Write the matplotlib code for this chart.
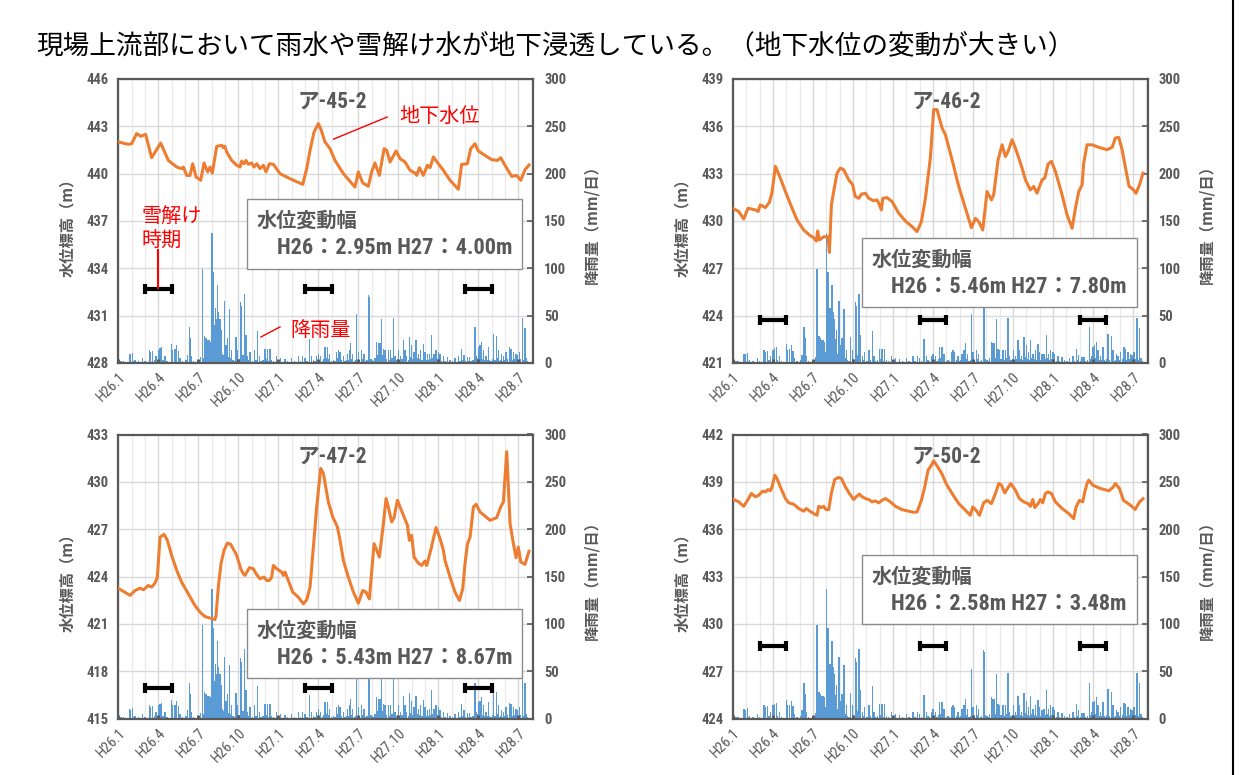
import matplotlib
matplotlib.use("Agg")
import matplotlib.pyplot as plt
from matplotlib import font_manager
from matplotlib.patches import Rectangle
from matplotlib.lines import Line2D

# =========================
# フォント
# =========================

installed = {f.name for f in font_manager.fontManager.ttflist}
NARROW = "Liberation Sans"
for cand in ["Liberation Sans Narrow", "Roboto Condensed", "Open Sans Condensed"]:
    if cand in installed:
        NARROW = cand
        break
CONDENSED = NARROW != "Liberation Sans"
JP = "Noto Sans CJK JP"

GRAY = "#595959"
ORANGE = "#ED7D31"
BLUE = "#5B9BD5"
RED = "#FF0000"

# =========================
# データ（x は H26.1 からの月数）
# =========================

month_ticks = [0, 3, 6, 9, 12, 15, 18, 21, 24, 27, 30]
month_labels = ["H26.1", "H26.4", "H26.7", "H26.10", "H27.1", "H27.4",
                "H27.7", "H27.10", "H28.1", "H28.4", "H28.7"]

panel_names = ["ア-45-2", "ア-46-2", "ア-47-2", "ア-50-2"]
panel_ymin = [428, 421, 415, 424]
amp_h26 = ["2.95", "5.46", "5.43", "2.58"]
amp_h27 = ["4.00", "7.80", "8.67", "3.48"]

# 雪解け時期
snow_start = [2, 14, 26]
snow_end = [4, 16, 28]
snow_bar_mm = [78, 45, 32, 77]

# 地下水位 ア-45-2
lv45_m = [0.05, 0.75, 1.0, 1.38, 1.68, 2.05, 2.5, 3.18, 3.75, 4.38,
          4.75, 4.88, 5.13, 5.38, 5.58, 5.83, 6.18, 6.43, 6.7, 6.88,
          7.05, 7.38, 7.75, 7.88, 8.0, 8.13, 8.5, 8.88, 9.13, 9.25,
          9.43, 9.58, 9.75, 10.0, 10.18, 10.38, 10.63, 10.88, 11.08, 11.33,
          11.63, 12.13, 12.88, 13.83, 14.13, 14.38, 14.68, 15.0, 15.18, 15.5,
          15.88, 16.25, 16.88, 17.75, 18.0, 18.33, 18.75, 19.0, 19.25, 19.58,
          19.93, 20.13, 20.38, 20.83, 21.13, 21.5, 21.88, 22.25, 22.38, 22.58,
          22.88, 23.18, 23.38, 23.63, 24.0, 24.38, 24.88, 25.5, 25.75, 26.18,
          26.43, 26.75, 27.0, 27.5, 28.0, 28.43, 28.68, 29.0, 29.5, 29.88,
          30.18, 30.5, 30.8]
lv45_v = [442.0, 441.86, 441.9, 442.54, 442.37, 442.49, 441.01, 441.94, 440.84, 440.42,
          440.32, 440.42, 439.89, 439.89, 440.63, 439.79, 439.58, 440.68, 440.11, 440.42,
          440.04, 441.73, 441.8, 441.65, 441.73, 441.37, 440.84, 440.53, 440.42, 440.8,
          440.63, 440.84, 440.59, 440.68, 440.42, 440.63, 440.32, 440.53, 440.11, 440.63,
          440.59, 440.0, 439.68, 439.32, 440.32, 441.48, 442.64, 443.17, 442.85, 442.01,
          441.58, 440.84, 440.0, 439.15, 440.11, 439.41, 439.2, 440.11, 440.68, 439.89,
          441.58, 441.48, 440.74, 441.44, 440.95, 440.74, 440.21, 440.04, 439.89, 440.38,
          439.89, 440.53, 440.38, 441.06, 440.63, 440.21, 439.58, 439.01, 440.59, 440.63,
          441.58, 441.9, 441.44, 441.16, 440.89, 440.84, 441.01, 440.53, 439.83, 439.89,
          439.58, 440.25, 440.55]

# 地下水位 ア-46-2
lv46_m = [0.05, 0.43, 0.8, 1.13, 1.68, 1.88, 2.05, 2.43, 2.73, 2.93,
          3.18, 3.55, 3.93, 4.43, 4.8, 5.3, 5.73, 6.05, 6.25, 6.35,
          6.48, 6.8, 7.13, 7.23, 7.38, 7.55, 7.8, 8.05, 8.3, 8.68,
          8.98, 9.05, 9.18, 9.43, 9.63, 9.93, 10.18, 10.55, 10.8, 10.93,
          11.13, 11.23, 11.55, 11.93, 12.43, 12.93, 13.43, 13.8, 14.13, 14.43,
          14.8, 15.05, 15.3, 15.68, 15.93, 16.43, 16.93, 17.43, 17.88, 18.18,
          18.43, 18.73, 19.05, 19.38, 19.55, 19.88, 20.18, 20.43, 20.63, 20.93,
          21.18, 21.43, 21.68, 21.93, 22.3, 22.55, 22.8, 23.18, 23.38, 23.63,
          23.88, 24.18, 24.68, 25.05, 25.43, 25.68, 25.93, 26.18, 26.3, 26.55,
          26.93, 27.43, 28.05, 28.43, 28.68, 28.93, 29.18, 29.45, 29.7, 30.05,
          30.22, 30.48, 30.75]
lv46_v = [430.77, 430.6, 430.13, 430.81, 430.7, 430.6, 431.02, 430.85, 431.19, 431.83,
          433.46, 432.72, 431.87, 430.81, 430.07, 429.43, 429.11, 428.94, 428.73, 429.37,
          428.8, 429.0, 429.0, 428.01, 431.02, 431.87, 433.03, 433.35, 433.25, 432.61,
          432.29, 431.97, 431.55, 431.44, 431.7, 431.76, 431.44, 431.28, 431.34, 431.13,
          430.7, 431.44, 431.48, 431.23, 430.49, 430.0, 429.64, 429.33, 429.96, 431.44,
          433.99, 437.06, 437.06, 435.89, 435.47, 433.88, 432.19, 430.81, 429.58, 430.17,
          429.96, 429.43, 431.87, 431.34, 431.66, 433.88, 434.83, 434.09, 434.41, 435.15,
          434.62, 433.99, 433.35, 432.61, 431.97, 432.19, 431.76, 432.61, 432.72, 433.61,
          433.78, 433.14, 431.66, 430.39, 429.54, 430.81, 431.87, 432.29, 433.67, 434.83,
          434.83, 434.67, 434.52, 434.67, 435.26, 435.3, 434.52, 433.3, 432.2, 431.97,
          431.75, 432.28, 433.03]

# 地下水位 ア-47-2
lv47_m = [0.05, 0.5, 0.88, 1.25, 1.63, 1.88, 2.25, 2.5, 2.75, 2.93,
          3.13, 3.43, 3.68, 4.0, 4.38, 4.75, 5.25, 5.75, 6.13, 6.5,
          6.88, 7.25, 7.33, 7.5, 7.7, 7.93, 8.18, 8.43, 8.88, 9.18,
          9.38, 9.5, 9.83, 10.13, 10.33, 10.63, 10.93, 11.13, 11.33, 11.5,
          11.63, 11.88, 12.25, 12.38, 12.5, 12.75, 13.08, 13.5, 13.88, 14.13,
          14.38, 14.63, 14.88, 15.18, 15.38, 15.75, 16.08, 16.43, 16.63, 16.88,
          17.25, 17.63, 18.0, 18.33, 18.58, 18.83, 19.18, 19.38, 19.58, 19.88,
          20.08, 20.25, 20.5, 20.68, 20.93, 21.13, 21.38, 21.68, 21.83, 22.0,
          22.18, 22.5, 22.75, 23.0, 23.13, 23.43, 23.63, 23.83, 24.13, 24.38,
          24.5, 24.88, 25.25, 25.58, 25.83, 26.0, 26.18, 26.38, 26.63, 26.83,
          27.13, 27.88, 28.38, 28.68, 28.88, 29.13, 29.38, 29.63, 29.83, 30.0,
          30.18, 30.5, 30.8]
lv47_v = [423.22, 423.0, 422.8, 423.11, 423.26, 423.16, 423.43, 423.33, 423.58, 423.96,
          426.5, 426.67, 426.29, 425.34, 424.39, 423.64, 422.9, 422.16, 421.74, 421.46,
          421.36, 421.27, 421.53, 423.33, 424.81, 425.66, 426.12, 426.04, 425.34, 424.49,
          424.17, 424.07, 424.56, 424.49, 424.17, 423.86, 423.96, 423.75, 423.75, 423.96,
          424.7, 424.49, 424.28, 424.07, 424.28, 423.75, 423.01, 422.69, 422.27, 422.52,
          423.33, 425.87, 428.41, 430.85, 430.53, 428.73, 427.78, 427.14, 426.29, 425.02,
          423.96, 423.01, 422.31, 423.11, 423.01, 422.58, 426.08, 425.66, 425.23, 427.35,
          428.94, 428.41, 427.46, 427.73, 428.83, 428.41, 427.88, 427.25, 426.29, 426.61,
          425.23, 424.85, 424.7, 424.98, 424.7, 425.66, 426.4, 427.1, 426.4, 425.66,
          425.02, 423.96, 423.01, 422.48, 423.22, 424.81, 426.04, 426.5, 428.41, 428.58,
          428.09, 427.56, 427.73, 428.41, 428.73, 431.91, 427.35, 426.08, 425.19, 425.87,
          424.92, 424.77, 425.6]

# 地下水位 ア-50-2
lv50_m = [0.05, 0.43, 0.8, 1.13, 1.38, 1.68, 1.93, 2.23, 2.43, 2.63,
          2.8, 2.93, 3.13, 3.3, 3.55, 3.93, 4.18, 4.55, 4.93, 5.3,
          5.5, 5.73, 6.05, 6.3, 6.43, 6.63, 6.8, 6.98, 7.18, 7.38,
          7.63, 7.93, 8.13, 8.43, 8.73, 9.05, 9.23, 9.48, 9.63, 9.93,
          10.18, 10.43, 10.68, 10.93, 11.18, 11.43, 11.8, 12.18, 12.68, 13.18,
          13.55, 13.8, 14.13, 14.38, 14.63, 14.88, 15.05, 15.38, 15.68, 15.98,
          16.43, 16.93, 17.43, 17.8, 17.98, 18.23, 18.48, 18.8, 19.05, 19.38,
          19.68, 19.93, 20.13, 20.38, 20.63, 20.83, 21.18, 21.48, 21.8, 22.13,
          22.3, 22.48, 22.63, 22.88, 23.05, 23.23, 23.43, 23.63, 23.88, 24.18,
          24.68, 25.18, 25.55, 25.73, 25.98, 26.23, 26.38, 26.55, 26.68, 26.98,
          27.55, 28.18, 28.48, 28.68, 28.98, 29.28, 29.82, 30.16, 30.48, 30.75]
lv50_v = [437.88, 437.73, 437.45, 437.88, 438.26, 438.05, 438.15, 438.41, 438.36, 438.51,
          438.43, 438.68, 439.42, 439.21, 438.68, 437.94, 437.67, 437.58, 437.31, 437.14,
          437.31, 437.16, 436.99, 436.88, 437.45, 437.37, 437.45, 437.24, 437.24, 438.3,
          439.15, 439.28, 439.21, 438.68, 438.26, 437.88, 438.05, 438.22, 438.09, 437.94,
          437.88, 437.73, 437.79, 437.67, 437.83, 437.94, 437.73, 437.45, 437.24, 437.14,
          437.07, 437.09, 437.83, 438.68, 439.74, 440.06, 440.33, 439.91, 439.49, 438.89,
          438.26, 437.62, 437.2, 436.88, 437.41, 437.2, 436.88, 437.67, 437.83, 437.62,
          438.26, 438.89, 438.79, 438.3, 438.64, 438.89, 438.47, 437.94, 437.73, 437.62,
          437.45, 437.88, 437.37, 437.62, 437.88, 437.67, 438.26, 438.36, 438.26, 437.73,
          437.31, 436.99, 436.67, 437.41, 437.83, 437.73, 438.36, 438.89, 439.11, 438.79,
          438.58, 438.43, 438.64, 438.89, 438.58, 437.83, 437.51, 437.25, 437.72, 437.93]

# 降雨量（mm/日）
rain_month = [0.08, 0.15, 0.22, 0.38, 0.55, 0.83, 0.93, 1.08, 1.17, 1.25,
              1.5, 1.65, 1.83, 2.0, 2.15, 2.33, 2.43, 2.58, 2.7, 2.83,
              3.0, 3.13, 3.25, 3.35, 3.5, 3.65, 3.8, 4.0, 4.08, 4.25,
              4.38, 4.5, 4.63, 4.8, 4.95, 5.08, 5.18, 5.33, 5.43, 5.5,
              5.65, 5.8, 5.95, 6.1, 6.18, 6.3, 6.37, 6.45, 6.52, 6.58,
              6.68, 6.8, 6.88, 6.95, 7.03, 7.13, 7.2, 7.28, 7.33, 7.38,
              7.43, 7.48, 7.53, 7.58, 7.63, 7.7, 7.75, 7.82, 7.88, 7.95,
              8.02, 8.08, 8.18, 8.25, 8.33, 8.42, 8.5, 8.6, 8.7, 8.83,
              8.95, 9.05, 9.18, 9.25, 9.35, 9.45, 9.58, 9.7, 9.8, 9.88,
              10.05, 10.2, 10.32, 10.45, 10.58, 10.7, 10.85, 11.0, 11.1, 11.18,
              11.28, 11.38, 11.5, 11.65, 11.75, 11.88, 12.05, 12.18, 12.35, 12.5,
              12.7, 12.85, 13.0, 13.2, 13.35, 13.5, 13.65, 13.83, 14.0, 14.15,
              14.33, 14.5, 14.62, 14.75, 14.88, 15.0, 15.1, 15.18, 15.3, 15.42,
              15.5, 15.6, 15.68, 15.75, 15.83, 16.0, 16.12, 16.25, 16.38, 16.45,
              16.5, 16.58, 16.63, 16.75, 16.88, 17.0, 17.1, 17.18, 17.25, 17.33,
              17.43, 17.5, 17.58, 17.7, 17.8, 17.88, 18.0, 18.1, 18.25, 18.35,
              18.43, 18.55, 18.65, 18.78, 18.85, 18.95, 19.05, 19.15, 19.25, 19.38,
              19.45, 19.5, 19.57, 19.63, 19.7, 19.75, 19.82, 19.88, 19.94, 20.0,
              20.1, 20.25, 20.35, 20.43, 20.52, 20.63, 20.75, 20.85, 20.95, 21.03,
              21.1, 21.18, 21.28, 21.38, 21.45, 21.5, 21.57, 21.63, 21.75, 21.83,
              21.92, 22.0, 22.1, 22.18, 22.25, 22.33, 22.42, 22.5, 22.58, 22.68,
              22.78, 22.88, 22.95, 23.0, 23.1, 23.18, 23.25, 23.33, 23.42, 23.5,
              23.6, 23.68, 23.75, 23.83, 23.92, 24.0, 24.07, 24.13, 24.25, 24.38,
              24.5, 24.68, 24.78, 24.88, 25.05, 25.25, 25.38, 25.5, 25.62, 25.75,
              25.85, 25.93, 26.05, 26.18, 26.25, 26.33, 26.45, 26.6, 26.75, 26.82,
              26.88, 26.94, 27.0, 27.06, 27.13, 27.2, 27.25, 27.32, 27.38, 27.48,
              27.58, 27.67, 27.75, 27.85, 27.95, 28.05, 28.13, 28.25, 28.38, 28.44,
              28.5, 28.6, 28.68, 28.75, 28.82, 28.88, 28.98, 29.08, 29.2, 29.33,
              29.39, 29.45, 29.55, 29.63, 29.72, 29.83, 29.93, 30.0, 30.08, 30.18,
              30.3, 30.4, 30.5, 30.6, 30.7]
rain_mm = [3, 2, 2, 2, 1, 10, 9.5, 11, 2, 3,
           2, 1, 5, 2, 1, 14, 12, 13, 3, 7,
           14, 15.5, 16.5, 3, 7, 2, 1, 20, 14, 14.5,
           19, 13, 5, 2, 1, 3, 8.5, 38, 26, 7,
           2, 1, 2, 3, 6, 99, 5, 28, 18, 26,
           24, 24, 22.5, 12, 137, 96, 40, 58, 20, 47,
           82, 15, 54, 30, 47, 25, 35, 10, 8, 65,
           12, 19, 26, 6, 57, 5, 14, 3, 2, 27,
           14, 4, 64, 60, 8, 73, 30, 7, 3, 12,
           2, 14, 3, 34, 7, 2, 3, 15, 4, 15,
           2, 15, 3, 2, 1, 7, 2, 5, 1, 4,
           2, 1, 5, 2, 1, 7, 2, 7, 5, 2,
           25, 7, 3, 2, 7, 10, 3, 7, 2, 4,
           17, 5, 17, 4, 10, 2, 3, 2, 12, 5,
           14, 4, 12, 3, 7, 2, 3, 10, 3, 14,
           21, 4, 10, 2, 3, 52, 12, 3, 14, 4,
           10, 2, 3, 72, 70, 4, 3, 2, 5, 22.5,
           8, 21, 6, 21, 5, 47, 8, 15, 6, 14,
           4, 14, 3, 14, 5, 48, 7, 3, 4, 14,
           3, 7, 4, 24, 6, 14, 4, 7, 3, 27,
           6, 19, 4, 12, 3, 24, 5, 10, 4, 14,
           3, 20, 5, 12, 3, 9.5, 3, 10, 4, 30,
           5, 10, 3, 14, 4, 12, 3, 9.5, 2, 7,
           2, 6, 1, 3, 2, 5, 1, 7, 2, 15,
           3, 8.5, 2, 6, 2, 6, 2, 3, 38, 4,
           7, 5, 17, 6, 19, 5, 22.5, 4, 14, 3,
           7, 3, 17, 3, 2, 4, 31, 3, 28, 5,
           14, 2, 3, 9.5, 2, 7, 3, 12, 4, 16.5,
           5, 15, 3, 12, 4, 10, 8.5, 3, 12, 4,
           48, 3, 37, 5, 2]

levels_m = [lv45_m, lv46_m, lv47_m, lv50_m]
levels_v = [lv45_v, lv46_v, lv47_v, lv50_v]

# =========================
# レイアウト（ピクセル）
# =========================

W, H = 1240, 775
AX_W, AX_H = 414.7, 284
AX_POS = [(118.3, 79), (733, 79), (118.3, 434.5), (733, 434.5)]
BOX_TOP = [0.576, 0.441, 0.386, 0.576]
XMAX = 31.1
AMP_SIZE = 16 if CONDENSED else 13.6

fig = plt.figure(figsize=(W / 100, H / 100), dpi=100)
fig.patch.set_facecolor("white")


def bold_numbers(labels, size):
    for lb in labels:
        lb.set_fontfamily(NARROW)
        lb.set_fontweight("bold")
        lb.set_fontsize(size)
        lb.set_color(GRAY)


def draw_panel(k):
    left_px, top_px = AX_POS[k]
    rect = [left_px / W, 1 - (top_px + AX_H) / H, AX_W / W, AX_H / H]
    ymin = panel_ymin[k]

    # 降雨量（下の層、グリッドもここ）
    ax_r = fig.add_axes(rect)
    ax_r.bar(rain_month, rain_mm, width=0.1, color=BLUE, linewidth=0, zorder=2)
    ax_r.set_xlim(0, XMAX)
    ax_r.set_ylim(0, 300)
    ax_r.set_yticks(range(0, 301, 50))
    ax_r.yaxis.tick_right()
    ax_r.yaxis.set_label_position("right")
    ax_r.set_xticks(month_ticks)
    ax_r.set_xticks(range(0, 32), minor=True)
    ax_r.tick_params(axis="x", which="both", length=0, labelbottom=False)
    ax_r.tick_params(axis="y", direction="in", length=4, width=1.2,
                     color=GRAY, pad=8)
    bold_numbers(ax_r.get_yticklabels(), 10.5)
    ax_r.grid(axis="y", color="#D9D9D9", lw=1)
    ax_r.grid(axis="x", which="major", color="#D9D9D9", lw=1)
    ax_r.grid(axis="x", which="minor", color="#EBEBEB", lw=1)
    ax_r.set_axisbelow(True)
    for s in ax_r.spines.values():
        s.set_visible(False)
    ax_r.set_ylabel("降雨量（mm/日）", fontfamily=JP, fontweight="bold",
                    fontsize=11, color=GRAY)
    ax_r.yaxis.set_label_coords(1.122, 0.5)

    # 雪解け時期のマーク
    for a, b in zip(snow_start, snow_end):
        ax_r.errorbar((a + b) / 2, snow_bar_mm[k], xerr=(b - a) / 2, fmt="none",
                      ecolor="black", elinewidth=3, capsize=3.7, capthick=3,
                      zorder=4)

    # 地下水位（上の層）
    ax = fig.add_axes(rect, sharex=ax_r)
    ax.patch.set_visible(False)
    ax.plot(levels_m[k], levels_v[k], color=ORANGE, lw=2.2, zorder=3,
            solid_joinstyle="round")
    ax.set_xlim(0, XMAX)
    ax.set_ylim(ymin, ymin + 18)
    ax.set_yticks(range(ymin, ymin + 19, 3))
    ax.tick_params(axis="y", length=0, pad=7)
    bold_numbers(ax.get_yticklabels(), 10.5)
    ax.set_xticks(month_ticks)
    ax.set_xticklabels(month_labels, rotation=45, ha="right",
                       rotation_mode="anchor", fontfamily=NARROW,
                       fontsize=10.5, color=GRAY)
    ax.tick_params(axis="x", which="major", direction="in", length=3,
                   width=2, color=GRAY, pad=5)
    ax.tick_params(axis="x", which="minor", length=0)
    for s in ax.spines.values():
        s.set_color(GRAY)
        s.set_linewidth(1.6)
    ax.set_ylabel("水位標高（m）", fontfamily=JP, fontweight="bold",
                  fontsize=11, color=GRAY)
    ax.yaxis.set_label_coords(-0.104, 0.49)

    ax.text(0.515, 0.921, panel_names[k], transform=ax.transAxes,
            ha="center", va="center", fontsize=15.5, fontweight="bold",
            color=GRAY, family=[NARROW, JP])

    # 水位変動幅
    top = BOX_TOP[k]
    ax.add_patch(Rectangle((0.31, top - 0.245), 0.664, 0.245,
                           transform=ax.transAxes, facecolor="white",
                           edgecolor="#8C8C8C", lw=1, zorder=5))
    ax.text(0.333, top - 0.075, "水位変動幅", transform=ax.transAxes,
            ha="left", va="center", fontsize=14.5, fontweight="bold",
            color=GRAY, fontfamily=JP, zorder=6)
    ax.text(0.382, top - 0.172, f"H26：{amp_h26[k]}m H27：{amp_h27[k]}m",
            transform=ax.transAxes, ha="left", va="center", fontsize=AMP_SIZE,
            fontweight="bold", color=GRAY, family=[NARROW, JP], zorder=6)

    return ax, ax_r


axes = [draw_panel(k) for k in range(4)]

# =========================
# 注記（ア-45-2）
# =========================

ax0, ax0_r = axes[0]
ax0.plot([20.16, 16.15], [443.59, 442.19], color=RED, lw=1, zorder=4)
ax0.text(21.07, 443.6, "地下水位", ha="left", va="center", fontsize=14.5,
         color=RED, fontfamily=JP, zorder=4)
ax0_r.plot([12.13, 10.7], [38.1, 27.5], color=RED, lw=1, zorder=4)
ax0_r.text(12.9, 34.6, "降雨量", ha="left", va="center", fontsize=14.5,
           color=RED, fontfamily=JP, zorder=4)
ax0_r.plot([3.0, 3.0], [119, 79], color=RED, lw=1.5, zorder=4)
ax0_r.text(1.71, 142, "雪解け\n時期", ha="left", va="center", fontsize=14.5,
           color=RED, fontfamily=JP, linespacing=1.25, zorder=4)

# =========================
# タイトル・枠
# =========================

fig.text(36 / W, 1 - 47 / H,
         "現場上流部において雨水や雪解け水が地下浸透している。（地下水位の変動が大きい）",
         ha="left", va="center", fontsize=19.2, color="black", fontfamily=JP)
fig.add_artist(Line2D([1233 / W, 1233 / W], [0, 1], color="black", lw=1.5))

fig.savefig("out.png", dpi=100)
